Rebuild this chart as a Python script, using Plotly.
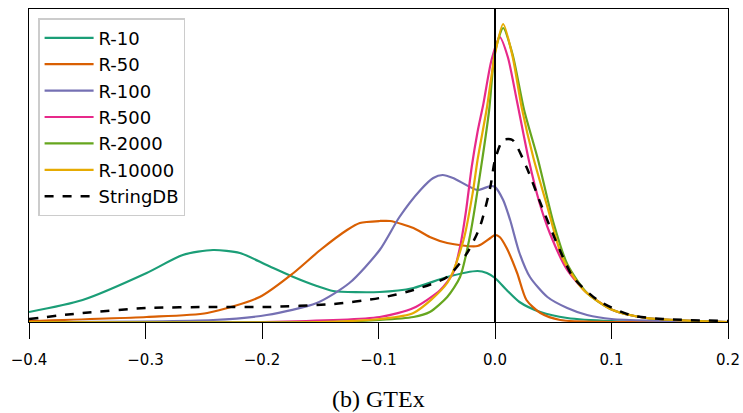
import plotly.graph_objects as go

# ---- data (arbitrary density units) ----
r10_x = [-0.4, -0.354, -0.299, -0.268, -0.242, -0.219, -0.196, -0.173, -0.153, -0.139, -0.099, -0.070, -0.041, -0.015, -0.007, 0.0, 0.010, 0.021, 0.039, 0.062, 0.1, 0.2]
r10_y = [10, 22, 49, 67, 72, 69, 57, 45, 36, 31, 30, 34, 45, 51, 49, 44, 32, 20, 10, 4, 1, 0]

r50_x = [-0.4, -0.299, -0.247, -0.202, -0.173, -0.150, -0.127, -0.116, -0.099, -0.090, -0.070, -0.056, -0.041, -0.015, -0.004, 0.0, 0.004, 0.010, 0.019, 0.027, 0.039, 0.056, 0.1, 0.2]
r50_y = [1, 5, 9, 25, 49, 72, 92, 99, 101, 101, 94, 85, 79, 76, 84, 87, 85, 74, 49, 22, 9, 2, 0, 0]

r100_x = [-0.4, -0.242, -0.196, -0.153, -0.125, -0.099, -0.082, -0.064, -0.053, -0.045, -0.036, -0.015, -0.004, 0.0, 0.007, 0.013, 0.021, 0.030, 0.045, 0.062, 0.079, 0.1, 0.2]
r100_y = [0, 2, 7, 19, 39, 72, 105, 132, 144, 147, 144, 132, 136, 135, 122, 102, 69, 45, 25, 14, 7, 3, 0]

r500_x = [-0.4, -0.2, -0.099, -0.070, -0.047, -0.036, -0.030, -0.025, -0.020, -0.015, -0.010, -0.003, 0.004, 0.011, 0.019, 0.029, 0.038, 0.047, 0.062, 0.079, 0.101, 0.130, 0.2]
r500_y = [0, 0, 5, 14, 32, 49, 75, 110, 155, 190, 218, 262, 285, 265, 220, 162, 120, 89, 52, 29, 12, 4, 0]

r2000_x = [-0.4, -0.150, -0.099, -0.070, -0.056, -0.041, -0.030, -0.021, -0.011, -0.005, 0.0, 0.007, 0.015, 0.025, 0.037, 0.050, 0.062, 0.079, 0.101, 0.130, 0.2]
r2000_y = [0, 0, 2, 5, 10, 25, 45, 89, 162, 212, 270, 294, 268, 212, 162, 100, 58, 29, 12, 4, 0]

r10000_x = [-0.4, -0.150, -0.099, -0.070, -0.041, -0.027, -0.019, -0.015, -0.007, 0.0, 0.007, 0.015, 0.023, 0.033, 0.045, 0.058, 0.076, 0.101, 0.130, 0.2]
r10000_y = [0, 0, 3, 9, 39, 82, 130, 162, 214, 268, 298, 266, 214, 164, 115, 64, 32, 12, 4, 0]

string_x = [-0.4, -0.354, -0.299, -0.242, -0.196, -0.139, -0.099, -0.070, -0.041, -0.024, -0.013, -0.004, 0.0, 0.007, 0.015, 0.027, 0.039, 0.053, 0.067, 0.088, 0.116, 0.144, 0.2]
string_y = [3, 9, 14, 15, 15, 18, 24, 32, 45, 69, 95, 135, 162, 182, 182, 155, 119, 79, 45, 22, 7, 3, 1]

names = ["R-10", "R-50", "R-100", "R-500", "R-2000", "R-10000", "StringDB"]
colors = ["#1b9e77", "#d95f02", "#7570b3", "#e7298a", "#66a61e", "#e6ab02", "#000000"]
xs = [r10_x, r50_x, r100_x, r500_x, r2000_x, r10000_x, string_x]
ys = [r10_y, r50_y, r100_y, r500_y, r2000_y, r10000_y, string_y]

tick_vals = [-0.4, -0.3, -0.2, -0.1, 0.0, 0.1, 0.2]

fig = go.Figure()
for n, c, x, y in zip(names, colors, xs, ys):
    fig.add_trace(go.Scatter(
        x=x, y=y, name=n, mode="lines",
        line=dict(color=c, width=2.2 if n != "StringDB" else 2.5,
                  dash="dash" if n == "StringDB" else "solid",
                  shape="spline", smoothing=0.7),
    ))

fig.add_shape(type="line", x0=0, x1=0, y0=0, y1=1, xref="x", yref="paper",
              line=dict(color="black", width=2), layer="above")

fig.update_layout(
    autosize=False,
    width=743, height=413,
    margin=dict(l=29, r=15, t=9, b=91, autoexpand=False),
    plot_bgcolor="white", paper_bgcolor="white",
    font=dict(family="DejaVu Sans", color="black"),
    showlegend=True,
    legend=dict(x=0.013, y=0.971, xanchor="left", yanchor="top",
                bgcolor="rgba(255,255,255,0.8)", bordercolor="#cccccc", borderwidth=1.5,
                font=dict(size=18, family="DejaVu Sans"), tracegroupgap=0,
                itemwidth=49),
    xaxis=dict(range=[-0.4, 0.2], tickvals=tick_vals, tickformat=".1f",
               showline=True, mirror=True, linecolor="black", linewidth=1.3,
               ticks="outside", ticklen=16, tickwidth=1.3, tickcolor="black",
               ticklabelstandoff=8, automargin=False,
               showgrid=False, zeroline=False, tickfont=dict(size=15)),
    yaxis=dict(range=[0, 313], showticklabels=False, ticks="",
               showline=True, mirror=True, linecolor="black", linewidth=1.3,
               showgrid=False, zeroline=False, automargin=False),
    annotations=[dict(text="(b) GTEx", x=0.5, y=-0.246, xref="paper", yref="paper",
                      xanchor="center", yanchor="middle", showarrow=False,
                      font=dict(family="Liberation Serif", size=24, color="black"))],
)

fig.write_html(
    "out.html",
    config={"responsive": False, "displayModeBar": False},
    post_script="document.body.style.margin='0';document.body.style.overflow='hidden';",
)
